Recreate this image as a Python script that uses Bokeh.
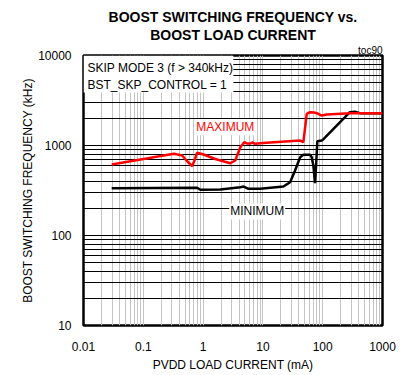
from bokeh.plotting import figure
from bokeh.models import FixedTicker, CustomJSTickFormatter, Label, BoxAnnotation, Title
from bokeh.embed import file_html
from bokeh.resources import INLINE

# ---- data ----
current_max = [0.0296, 0.324, 0.447, 0.547, 0.656, 0.716, 0.794, 1.02, 1.60, 2.85, 3.45,
               4.19, 4.88, 5.47, 6.13, 6.63, 7.45, 10.0, 23.5, 41.9, 47.5, 54.1, 61.4,
               71.6, 84.5, 96.3, 117, 285, 1000]
freq_max = [615, 809, 774, 664, 589, 681, 830, 794, 708, 635, 681,
            957, 1089, 1052, 1052, 1080, 1045, 1066, 1107, 1136, 1089, 2250, 2345,
            2330, 2250, 2154, 2210, 2287, 2287]

current_min = [0.0296, 0.794, 0.90, 1.94, 4.19, 4.76, 5.75, 9.0, 22.0, 28.5, 34.5,
               41.9, 47.5, 61.4, 65.6, 69.7, 74.5, 77.3, 81.3, 96.3, 102, 285, 345,
               419, 1000]
freq_min = [336, 339, 322, 325, 344, 350, 330, 330, 350, 391, 527,
            741, 789, 789, 741, 600, 381, 574, 1116, 1136, 1166, 2345, 2370,
            2287, 2287]

x_ticks = [0.01, 0.1, 1, 10, 100, 1000]
y_ticks = [10, 100, 1000, 10000]
x_minor = [m * 10.0 ** e for e in range(-2, 3) for m in range(2, 10)]
y_minor = [m * 10.0 ** e for e in range(1, 4) for m in range(2, 10)]

FONT = "Liberation Sans"

p = figure(x_axis_type="log", y_axis_type="log",
           x_range=(0.01, 1000), y_range=(10, 10000),
           frame_width=299, frame_height=270,
           min_border_left=83, min_border_right=20,
           min_border_top=55, min_border_bottom=48,
           title=None,
           output_backend="svg", toolbar_location=None)

xt = FixedTicker(ticks=x_ticks, minor_ticks=x_minor)
yt = FixedTicker(ticks=y_ticks, minor_ticks=y_minor)
p.xaxis.ticker = xt
p.xgrid.ticker = xt
p.yaxis.ticker = yt
p.ygrid.ticker = yt
fmt = CustomJSTickFormatter(code="return String(tick);")
p.xaxis.formatter = fmt
p.yaxis.formatter = fmt

p.xgrid.grid_line_color = "#c4c4c4"
p.xgrid.minor_grid_line_color = "#c4c4c4"
p.ygrid.grid_line_color = "black"
p.ygrid.minor_grid_line_color = "black"
p.xgrid.grid_line_width = 1
p.ygrid.grid_line_width = 1

p.outline_line_color = "black"
p.outline_line_width = 2.5
p.outline_line_alpha = 1

for ax in (p.xaxis, p.yaxis):
    ax.axis_line_color = None
    ax.major_tick_in = 0
    ax.major_tick_out = 0
    ax.minor_tick_in = 0
    ax.minor_tick_out = 0
    ax.major_label_text_font = FONT
    ax.major_label_text_font_size = "12px"
    ax.major_label_text_color = "black"
    ax.axis_label_text_font = FONT
    ax.axis_label_text_font_size = "12px"
    ax.axis_label_text_font_style = "normal"
    ax.axis_label_text_color = "black"

p.xaxis.axis_label = "PVDD LOAD CURRENT (mA)"
p.xaxis.major_label_standoff = 16
p.xaxis.axis_label_standoff = 4
p.yaxis.axis_label = "BOOST SWITCHING FREQUENCY (kHz)"
p.yaxis.major_label_standoff = 12
p.yaxis.axis_label_standoff = 0

p.line(current_min, freq_min, line_color="black", line_width=2.5)
p.line(current_max, freq_max, line_color="#ff0000", line_width=2.5)

# white box behind the mode text
p.add_layout(BoxAnnotation(left=0.01, right=3.2, bottom=3880, top=10000,
                           fill_color="white", fill_alpha=1, line_color=None))
p.add_layout(Label(x=4, y=258, x_units="screen", y_units="screen",
                   text="SKIP MODE 3 (f > 340kHz)", text_font=FONT,
                   text_font_size="12px", text_baseline="middle", text_color="black"))
p.add_layout(Label(x=4, y=240.5, x_units="screen", y_units="screen",
                   text="BST_SKP_CONTROL = 1", text_font=FONT,
                   text_font_size="12px", text_baseline="middle", text_color="black"))

p.add_layout(Label(x=2.35, y=1596, text="MAXIMUM", text_font=FONT,
                   text_font_size="12px", text_align="center", text_baseline="middle",
                   text_color="#ff0000", background_fill_color="white", padding=1))
p.add_layout(Label(x=8.04, y=185, text="MINIMUM", text_font=FONT,
                   text_font_size="12px", text_align="center", text_baseline="middle",
                   text_color="black", background_fill_color="white", padding=1))

# titles and code, above the frame (later ones stack further out)
p.add_layout(Title(text="toc90", align="right", text_font=FONT, text_font_size="10px",
                   text_font_style="normal", text_color="black", standoff=0, offset=0), "above")
p.add_layout(Title(text="BOOST LOAD CURRENT", align="center", text_font=FONT,
                   text_font_size="14px", text_font_style="bold", text_color="black",
                   standoff=0, offset=0), "above")
p.add_layout(Title(text="BOOST SWITCHING FREQUENCY vs.", align="center", text_font=FONT,
                   text_font_size="14px", text_font_style="bold", text_color="black",
                   standoff=0, offset=0), "above")

open("out.html", "w").write(file_html(p, INLINE))
